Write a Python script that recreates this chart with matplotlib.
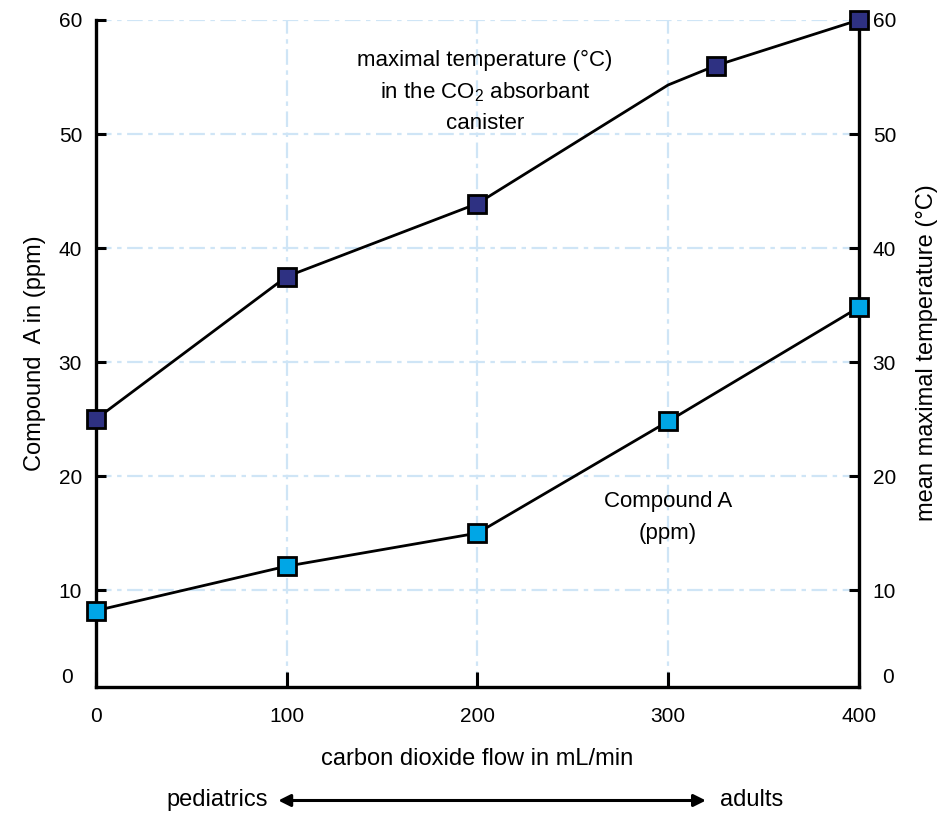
import matplotlib
matplotlib.use('Agg')
import matplotlib.pyplot as plt

# carbon dioxide flow (mL/min)
temp_flow = [0, 100, 200, 300, 325, 400]
temp_values = [25, 37.5, 43.9, 54.3, 56, 60]
temp_marker_idx = [0, 1, 2, 4, 5]

compound_flow = [0, 100, 200, 300, 400]
compound_values = [8.2, 12.1, 15, 24.8, 34.8]

x_ticks = [0, 100, 200, 300, 400]
y_ticks = [10, 20, 30, 40, 50, 60]

plt.rcParams['font.family'] = ['Liberation Sans Narrow', 'Liberation Sans', 'DejaVu Sans']
plt.rcParams['mathtext.default'] = 'regular'

fig = plt.figure(figsize=(9.5, 8.16), dpi=100)
ax = fig.add_axes([0.101, 0.158, 0.803, 0.8175])

grid_color = '#cfe5f6'
grid_style = (0, (7, 2.5, 2, 2.5))
for v in y_ticks:
    ax.axhline(v, color=grid_color, lw=1.6, ls=grid_style, zorder=0)
for v in x_ticks[1:-1]:
    ax.axvline(v, color=grid_color, lw=1.6, ls=grid_style, zorder=0)

ax.plot(temp_flow, temp_values, color='black', lw=2, zorder=3)
ax.plot([temp_flow[i] for i in temp_marker_idx], [temp_values[i] for i in temp_marker_idx],
        ls='none', marker='s', ms=13, mfc='#2e3182', mec='black', mew=2, zorder=4,
        clip_on=False)
ax.plot(compound_flow, compound_values, color='black', lw=2, marker='s', ms=13,
        mfc='#00a6e6', mec='black', mew=2, zorder=4, clip_on=False)

ax.set_xlim(0, 400)
ax.set_ylim(1.5, 60)
ax.set_xticks(x_ticks)
ax.set_yticks(y_ticks)
ax.tick_params(axis='both', direction='in', width=2.2, labelsize=15)
ax.tick_params(axis='x', length=11, pad=14)
ax.tick_params(axis='y', length=7, pad=10, right=True, labelright=True)
ax.spines['top'].set_visible(False)
for s in ['left', 'right', 'bottom']:
    ax.spines[s].set_linewidth(2.4)

# zero label sits just above the bottom axis
ax.text(-0.03, 2.3, '0', transform=ax.get_yaxis_transform(), ha='right', va='center', fontsize=15)
ax.text(1.03, 2.3, '0', transform=ax.get_yaxis_transform(), ha='left', va='center', fontsize=15)

ax.set_xlabel('carbon dioxide flow in mL/min', fontsize=17, labelpad=16)
ax.set_ylabel('Compound  A in (ppm)', fontsize=17, labelpad=9)
fig.text(0.976, 0.568, 'mean maximal temperature (°C)', rotation=90, ha='center', va='center',
         fontsize=17)

ax.text(204, 53.7, 'maximal temperature (°C)\nin the CO$_2$ absorbant\ncanister', ha='center',
        va='center', fontsize=16, linespacing=1.55)
ax.text(300, 16.4, 'Compound A\n(ppm)', ha='center', va='center', fontsize=16, linespacing=1.7)

fig.text(0.282, 0.019, 'pediatrics', ha='right', va='center', fontsize=17)
fig.text(0.758, 0.019, 'adults', ha='left', va='center', fontsize=17)
fig.patches.append(matplotlib.patches.FancyArrowPatch(
    (0.29, 0.019), (0.746, 0.019), transform=fig.transFigure, arrowstyle='<|-|>',
    mutation_scale=18, lw=2.2, color='black'))

fig.savefig('out.png', dpi=100)
